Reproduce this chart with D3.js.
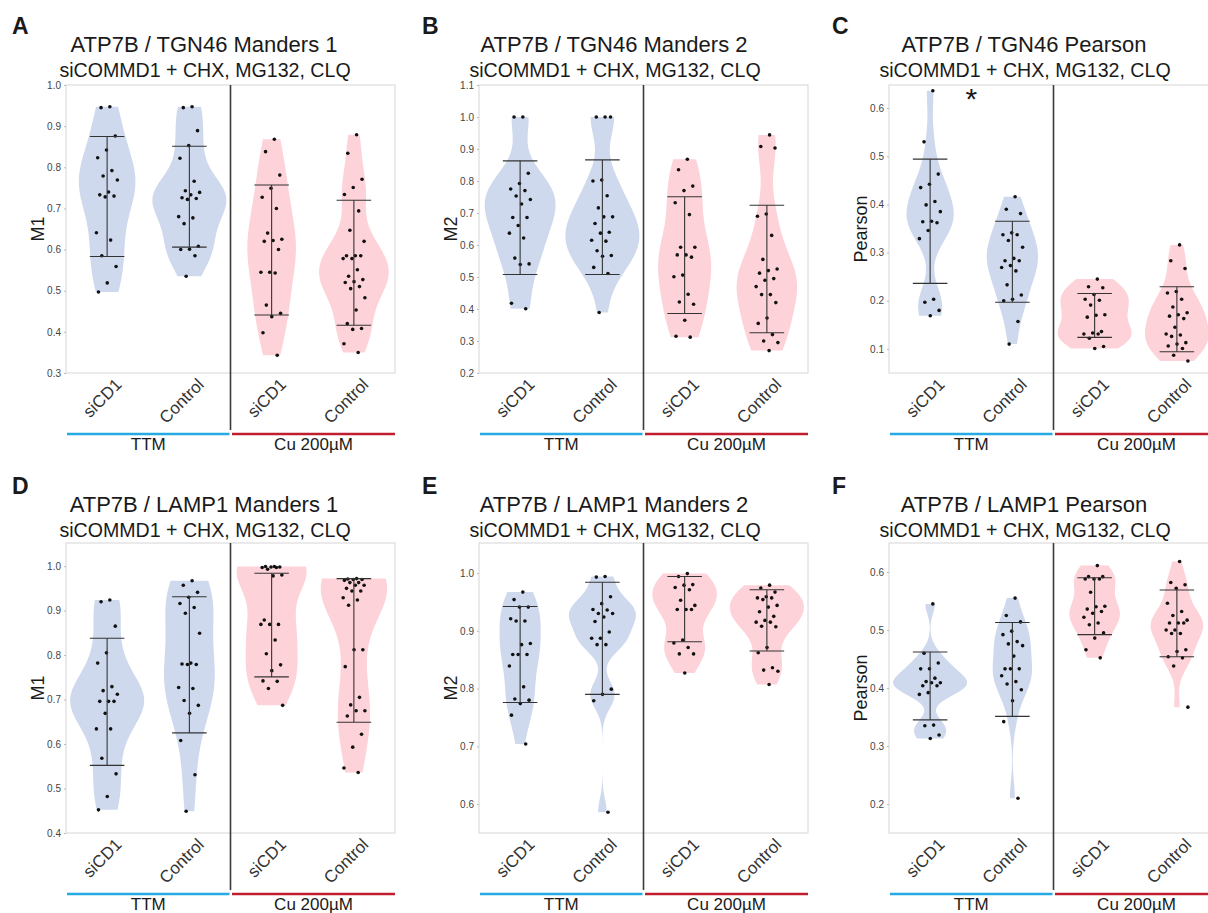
<!DOCTYPE html>
<html>
<head>
<meta charset="utf-8">
<script src="https://cdn.jsdelivr.net/npm/d3@7"></script>
<style>
body { margin: 0; background: #fff; }
text { font-family: Arial, "Liberation Sans", Helvetica, sans-serif; }
</style>
</head>
<body>
<div id="chart"></div>
<script>
// categories / groups shared by all six panels
var categories = ["siCD1", "Control", "siCD1", "Control"];
var groups = ["TTM", "Cu 200\u00b5M"];
var subtitle = "siCOMMD1 + CHX, MG132, CLQ";
var letters = ["A", "B", "C", "D", "E", "F"];
var titles = ["ATP7B / TGN46 Manders 1", "ATP7B / TGN46 Manders 2", "ATP7B / TGN46 Pearson",
              "ATP7B / LAMP1 Manders 1", "ATP7B / LAMP1 Manders 2", "ATP7B / LAMP1 Pearson"];
var yLabels = ["M1", "M2", "Pearson", "M1", "M2", "Pearson"];
var yDomains = [[0.3, 1.0], [0.2, 1.1], [0.05, 0.648], [0.4, 1.052], [0.55, 1.052], [0.15, 0.65]];
var yTicks = [
  [0.3, 0.4, 0.5, 0.6, 0.7, 0.8, 0.9, 1.0],
  [0.2, 0.3, 0.4, 0.5, 0.6, 0.7, 0.8, 0.9, 1.0, 1.1],
  [0.1, 0.2, 0.3, 0.4, 0.5, 0.6],
  [0.4, 0.5, 0.6, 0.7, 0.8, 0.9, 1.0],
  [0.6, 0.7, 0.8, 0.9, 1.0],
  [0.2, 0.3, 0.4, 0.5, 0.6]
];

// per cell values, order: TTM siCD1, TTM Control, Cu siCD1, Cu Control
var tgnM1 = [
  [0.947,0.945,0.876,0.842,0.823,0.792,0.779,0.769,0.740,0.733,0.730,0.728,0.641,0.623,0.585,0.559,0.519,0.497],
  [0.947,0.945,0.889,0.853,0.822,0.766,0.743,0.739,0.733,0.726,0.724,0.722,0.680,0.677,0.663,0.608,0.601,0.600,0.585,0.535],
  [0.868,0.838,0.781,0.749,0.727,0.700,0.640,0.625,0.622,0.620,0.600,0.545,0.545,0.543,0.465,0.445,0.437,0.398,0.343],
  [0.879,0.834,0.771,0.751,0.734,0.694,0.647,0.620,0.585,0.585,0.585,0.578,0.578,0.551,0.535,0.527,0.522,0.520,0.510,0.505,0.483,0.453,0.420,0.408,0.406,0.371,0.350]
];
var tgnM1Bars = [[0.583, 0.875], [0.606, 0.851], [0.441, 0.757], [0.416, 0.720]];

var tgnM2 = [
  [1.0,1.0,0.824,0.792,0.775,0.770,0.753,0.742,0.728,0.686,0.686,0.661,0.637,0.622,0.559,0.541,0.539,0.418,0.401],
  [1.0,1.0,1.0,0.803,0.800,0.754,0.716,0.688,0.688,0.667,0.640,0.637,0.615,0.612,0.582,0.567,0.565,0.530,0.511,0.389],
  [0.868,0.835,0.784,0.770,0.732,0.695,0.593,0.593,0.569,0.569,0.562,0.506,0.501,0.446,0.422,0.415,0.365,0.315,0.312],
  [0.944,0.908,0.903,0.697,0.690,0.630,0.555,0.525,0.520,0.512,0.495,0.490,0.470,0.445,0.445,0.420,0.372,0.355,0.320,0.300,0.295,0.270]
];
var tgnM2Bars = [[0.508, 0.863], [0.508, 0.866], [0.386, 0.751], [0.326, 0.724]];

var tgnPearson = [
  [0.636,0.530,0.463,0.442,0.435,0.406,0.399,0.385,0.365,0.364,0.362,0.346,0.329,0.203,0.197,0.180,0.169],
  [0.416,0.390,0.381,0.341,0.337,0.337,0.325,0.311,0.288,0.283,0.283,0.273,0.269,0.262,0.233,0.212,0.203,0.200,0.157,0.110],
  [0.245,0.229,0.227,0.213,0.203,0.201,0.191,0.171,0.170,0.166,0.136,0.133,0.131,0.131,0.122,0.105,0.101],
  [0.316,0.283,0.267,0.219,0.216,0.203,0.187,0.175,0.171,0.168,0.163,0.145,0.131,0.129,0.126,0.113,0.110,0.106,0.101,0.087,0.075]
];
var tgnPearsonBars = [[0.236, 0.494], [0.197, 0.365], [0.124, 0.215], [0.094, 0.229]];

// several Manders values sit at the ceiling and overlap there
var lampM1 = [
  [0.924,0.920,0.865,0.805,0.782,0.729,0.720,0.712,0.696,0.696,0.696,0.669,0.634,0.634,0.568,0.533,0.482,0.452],
  [0.967,0.957,0.941,0.930,0.916,0.907,0.894,0.849,0.782,0.780,0.779,0.779,0.727,0.725,0.698,0.687,0.669,0.608,0.531,0.449],
  [0.999,0.999,0.998,0.998,0.997,0.997,0.993,0.980,0.978,0.879,0.869,0.869,0.869,0.834,0.803,0.778,0.765,0.742,0.741,0.725,0.687],
  [0.972,0.971,0.970,0.970,0.968,0.963,0.963,0.957,0.957,0.950,0.944,0.944,0.929,0.924,0.912,0.812,0.812,0.774,0.705,0.688,0.675,0.675,0.663,0.622,0.593,0.546,0.536]
];
var lampM1Bars = [[0.552, 0.838], [0.625, 0.931], [0.751, 0.984], [0.649, 0.972]];

var lampM2 = [
  [0.967,0.954,0.941,0.941,0.921,0.917,0.917,0.878,0.876,0.859,0.859,0.859,0.839,0.803,0.782,0.780,0.774,0.754,0.704],
  [0.994,0.993,0.959,0.947,0.937,0.936,0.930,0.930,0.924,0.916,0.898,0.887,0.887,0.876,0.876,0.799,0.790,0.779,0.586],
  [0.999,0.994,0.980,0.979,0.975,0.971,0.953,0.944,0.937,0.937,0.937,0.884,0.879,0.871,0.860,0.860,0.827],
  [0.979,0.974,0.967,0.959,0.957,0.957,0.954,0.944,0.941,0.933,0.925,0.918,0.915,0.915,0.908,0.907,0.871,0.862,0.836,0.832,0.830,0.807]
];
var lampM2Bars = [[0.776, 0.942], [0.790, 0.984], [0.881, 0.994], [0.865, 0.971]];

var lampPearson = [
  [0.545,0.460,0.443,0.433,0.433,0.417,0.411,0.409,0.409,0.404,0.404,0.392,0.389,0.336,0.335,0.319,0.313],
  [0.555,0.525,0.514,0.498,0.492,0.480,0.476,0.473,0.455,0.433,0.433,0.433,0.421,0.411,0.407,0.397,0.378,0.342,0.210],
  [0.611,0.592,0.592,0.588,0.588,0.588,0.565,0.541,0.540,0.536,0.532,0.529,0.522,0.512,0.509,0.495,0.486,0.466,0.452],
  [0.618,0.582,0.578,0.572,0.546,0.532,0.525,0.517,0.512,0.512,0.512,0.500,0.500,0.494,0.494,0.466,0.463,0.454,0.452,0.438,0.367]
];
var lampPearsonBars = [[0.345, 0.462], [0.351, 0.513], [0.492, 0.590], [0.454, 0.569]];

// significance marks: [panel index, between category a and b, label]
var signif = [[2, 0, 1, "*"]];

var dataSets = [tgnM1, tgnM2, tgnPearson, lampM1, lampM2, lampPearson];
var barSets = [tgnM1Bars, tgnM2Bars, tgnPearsonBars, lampM1Bars, lampM2Bars, lampPearsonBars];

var W = 1208, H = 913;
var colX = [0, 410, 820];
var boxLeft = [66, 69, 69];
var boxW = 329;
var rowY = [0, 460];
var rowTop = [85, 543], rowBottom = [373, 833];
var fills = ["#cfd9ee", "#cfd9ee", "#fdd2d9", "#fdd2d9"];
var groupColors = ["#27aae1", "#be1e2d"];

var svg = d3.select("#chart").append("svg")
  .attr("width", W).attr("height", H)
  .style("background", "#fff");

// violin density like ggplot (gaussian, nrd0 bandwidth, trimmed)
function density(vals) {
  var s = vals.slice().sort(d3.ascending);
  var sd = d3.deviation(s);
  var iqr = d3.quantile(s, 0.75) - d3.quantile(s, 0.25);
  var lo = Math.min(sd, iqr / 1.34);
  if (!(lo > 0)) lo = sd;
  var bw = 0.9 * lo * Math.pow(s.length, -0.2);
  var a = s[0], b = s[s.length - 1], n = 200;
  return d3.range(n).map(function(i) {
    var y = a + (b - a) * i / (n - 1);
    var d = d3.sum(s, function(v) { var u = (y - v) / bw; return Math.exp(-0.5 * u * u); });
    return [y, d / (s.length * bw * Math.sqrt(2 * Math.PI))];
  });
}

dataSets.forEach(function(cells, p) {
  var col = p % 3, row = Math.floor(p / 3);
  var ox = colX[col], oy = rowY[row];
  var left = ox + boxLeft[col], right = left + boxW;
  var top = rowTop[row], bottom = rowBottom[row];
  var mid = (left + right) / 2;

  var x = d3.scaleBand().domain(d3.range(categories.length)).range([left, right]);
  var bw = x.bandwidth();
  var cx = function(i) { return x(i) + bw / 2; };
  var y = d3.scaleLinear().domain(yDomains[p]).range([bottom, top]);

  var g = svg.append("g");

  // letter, title, subtitle
  g.append("text").attr("x", ox + 12).attr("y", oy + 34)
    .attr("font-size", 23).attr("font-weight", "bold").attr("fill", "#1a1a1a")
    .text(letters[p]);
  g.append("text").attr("x", ox + 204).attr("y", oy + 52)
    .attr("text-anchor", "middle").attr("font-size", 22).attr("fill", "#1a1a1a")
    .text(titles[p]);
  g.append("text").attr("x", ox + 205).attr("y", oy + 77)
    .attr("text-anchor", "middle").attr("font-size", 19.6).attr("fill", "#1a1a1a")
    .text(subtitle);

  // violins
  var curves = cells.map(density);
  var maxD = d3.max(curves, function(c) { return d3.max(c, function(d) { return d[1]; }); });
  var half = d3.scaleLinear().domain([0, maxD]).range([0, 0.9 * bw / 2]);

  curves.forEach(function(c, i) {
    var area = d3.area()
      .y(function(d) { return y(d[0]); })
      .x0(function(d) { return cx(i) - half(d[1]); })
      .x1(function(d) { return cx(i) + half(d[1]); });
    g.append("path").attr("d", area(c)).attr("fill", fills[i]);
  });

  // jittered points (deterministic spread)
  cells.forEach(function(vals, i) {
    g.selectAll(null).data(vals).enter().append("circle")
      .attr("cx", function(d, k) { return cx(i) + ((((k + 1) * 0.6180339887) % 1) - 0.5) * 0.28 * bw; })
      .attr("cy", function(d) { return y(d); })
      .attr("r", 1.8).attr("fill", "#111");
  });

  // mean +/- sd bars
  barSets[p].forEach(function(b, i) {
    var c = cx(i), cap = 0.21 * bw;
    g.append("line").attr("x1", c).attr("x2", c).attr("y1", y(b[0])).attr("y2", y(b[1]))
      .attr("stroke", "#333").attr("stroke-width", 1.1);
    b.forEach(function(v) {
      g.append("line").attr("x1", c - cap).attr("x2", c + cap).attr("y1", y(v)).attr("y2", y(v))
        .attr("stroke", "#333").attr("stroke-width", 1.1);
    });
  });

  // panel border
  g.append("rect").attr("x", left).attr("y", top).attr("width", boxW).attr("height", bottom - top)
    .attr("fill", "none").attr("stroke", "#d6d6d6").attr("stroke-width", 1);

  // y axis
  var ax = g.append("g").attr("transform", "translate(" + left + ",0)")
    .call(d3.axisLeft(y).tickValues(yTicks[p]).tickSize(2).tickPadding(3).tickFormat(d3.format(".1f")));
  ax.select(".domain").remove();
  ax.selectAll(".tick line").attr("stroke", "#bbb");
  ax.selectAll(".tick text").attr("font-size", 10).attr("fill", "#444")
    .attr("font-family", "Arial, 'Liberation Sans', sans-serif");

  g.append("text")
    .attr("transform", "translate(" + (left - 28) + "," + ((top + bottom) / 2) + ") rotate(-90)")
    .attr("text-anchor", "middle").attr("dy", "0.35em").attr("font-size", 18).attr("fill", "#1a1a1a")
    .text(yLabels[p]);

  // x labels rotated
  categories.forEach(function(c, i) {
    g.append("text")
      .attr("transform", "translate(" + (cx(i) + 7) + "," + (bottom + 4) + ") rotate(-45)")
      .attr("text-anchor", "end").attr("dy", "0.72em").attr("font-size", 17).attr("fill", "#333")
      .text(c);
  });

  // divider between treatment groups
  g.append("line").attr("x1", mid).attr("x2", mid).attr("y1", top).attr("y2", bottom + 57)
    .attr("stroke", "#3a3a3a").attr("stroke-width", 1.6);

  // group underlines and labels
  groups.forEach(function(name, k) {
    var x0 = k === 0 ? left + 1 : mid + 1.5, x1 = k === 0 ? mid - 1 : right;
    g.append("line").attr("x1", x0).attr("x2", x1).attr("y1", bottom + 61).attr("y2", bottom + 61)
      .attr("stroke", groupColors[k]).attr("stroke-width", 2.3);
    g.append("text").attr("x", (x0 + x1) / 2).attr("y", bottom + 77)
      .attr("text-anchor", "middle").attr("font-size", 17).attr("fill", "#1a1a1a")
      .text(name);
  });

  signif.filter(function(s) { return s[0] === p; }).forEach(function(s) {
    g.append("text").attr("x", (cx(s[1]) + cx(s[2])) / 2).attr("y", top + 24)
      .attr("text-anchor", "middle").attr("font-size", 30).attr("fill", "#1a1a1a")
      .text(s[3]);
  });
});
</script>
</body>
</html>
